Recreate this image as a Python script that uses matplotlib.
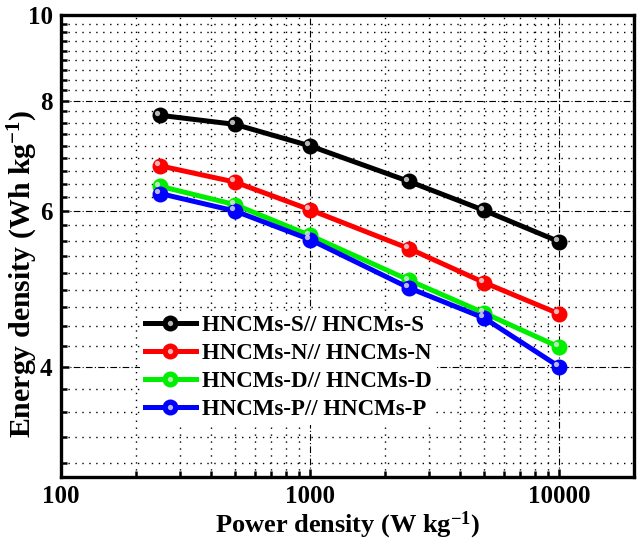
import numpy as np
import matplotlib
matplotlib.use("Agg")
import matplotlib.pyplot as plt
import matplotlib.transforms as mtransforms
from matplotlib.ticker import FixedLocator, NullFormatter, FixedFormatter
from matplotlib.legend_handler import HandlerTuple

plt.rcParams['font.family'] = ['Liberation Serif', 'DejaVu Serif']
plt.rcParams['font.weight'] = 'bold'
plt.rcParams['mathtext.fontset'] = 'custom'
plt.rcParams['mathtext.rm'] = 'Liberation Serif:bold'
plt.rcParams['mathtext.bf'] = 'Liberation Serif:bold'
plt.rcParams['mathtext.it'] = 'Liberation Serif:bold:italic'

# ---- data ----
power = [250, 500, 1000, 2500, 5000, 10000]
energy_S = [7.70, 7.52, 7.11, 6.48, 6.01, 5.54]
energy_N = [6.75, 6.47, 6.02, 5.44, 4.98, 4.59]
energy_D = [6.40, 6.10, 5.63, 5.01, 4.60, 4.21]
energy_P = [6.28, 6.00, 5.57, 4.91, 4.54, 4.00]
labels = ["HNCMs-S// HNCMs-S", "HNCMs-N// HNCMs-N",
          "HNCMs-D// HNCMs-D", "HNCMs-P// HNCMs-P"]
colors = ["#000000", "#ff0000", "#00ee00", "#0000ff"]

x_major = [100, 1000, 10000]
x_major_labels = ["100", "1000", "10000"]
y_major = [4, 6, 8, 10]
y_major_labels = ["4", "6", "8", "10"]

fig = plt.figure(figsize=(6.38, 5.40), dpi=100)
ax = fig.add_axes([0.0956, 0.1167, 0.8981, 0.8555])
ax.set_xscale('log')
ax.set_yscale('log')
ax.set_xlim(100, 20000)
ax.set_ylim(3, 10)

hl_offset = mtransforms.ScaledTranslation(-2.6 / 100, 2.6 / 100, fig.dpi_scale_trans)

series = [energy_S, energy_N, energy_D, energy_P]
handles = []
for ys, c, lab in zip(series, colors, labels):
    l1, = ax.plot(power, ys, '-o', color=c, lw=3.6, markersize=11.5,
                  markeredgewidth=0, zorder=3)
    l2, = ax.plot(power, ys, linestyle='none', marker='o',
                  markersize=3.8, color='#e6e6e6', markeredgewidth=0, alpha=0.8,
                  zorder=4, transform=ax.transData + hl_offset)
    handles.append((l1, l2))

# ticks
ax.xaxis.set_major_locator(FixedLocator(x_major))
ax.xaxis.set_major_formatter(FixedFormatter(x_major_labels))
x_minor = [m * d for d in (100, 1000) for m in range(2, 10)]
ax.xaxis.set_minor_locator(FixedLocator(x_minor))
ax.xaxis.set_minor_formatter(NullFormatter())

ax.yaxis.set_major_locator(FixedLocator(y_major))
ax.yaxis.set_major_formatter(FixedFormatter(y_major_labels))
y_minor = []
for a in (2, 4, 6, 8):
    for k in range(1, 9):
        v = a + k * 2 / 9
        if 3 <= v <= 10:
            y_minor.append(v)
ax.yaxis.set_minor_locator(FixedLocator(y_minor))
ax.yaxis.set_minor_formatter(NullFormatter())

ax.tick_params(which='both', direction='in', top=False, right=False,
               width=1.8, labelsize=18)
ax.tick_params(which='major', length=6)
ax.tick_params(which='minor', length=4)
ax.tick_params(axis='x', which='major', pad=6)
ax.tick_params(axis='y', which='major', pad=6)
for lab in ax.get_xticklabels() + ax.get_yticklabels():
    lab.set_fontweight('bold')

for s in ax.spines.values():
    s.set_linewidth(2.4)

ax.grid(which='major', color='black', lw=0.8, linestyle=(0, (6, 2, 1, 2)))
ax.grid(which='minor', color='black', lw=1.0, linestyle=(0, (1, 4)))
ax.set_axisbelow(True)

ax.set_xlabel(r'Power density (W kg$^{\mathbf{-1}}$)', fontsize=19,
              fontweight='bold')
ax.set_ylabel(r'Energy density (Wh kg$^{\mathbf{-1}}$)', fontsize=21.5,
              fontweight='bold')
ax.xaxis.set_label_coords(0.5, -0.071)
ax.yaxis.set_label_coords(-0.036, 0.44)

leg = ax.legend(handles, labels, handler_map={tuple: HandlerTuple(ndivide=1, pad=0)},
                loc='upper left', bbox_to_anchor=(0.13, 0.37),
                frameon=True, fancybox=False, edgecolor='none', facecolor='white',
                framealpha=1, fontsize=16.5, handlelength=2.25, labelspacing=0.3,
                handletextpad=0.25, borderpad=0.2, borderaxespad=0.2)
for t in leg.get_texts():
    t.set_fontweight('bold')
leg.set_zorder(5)

fig.savefig('out.png', dpi=100)
